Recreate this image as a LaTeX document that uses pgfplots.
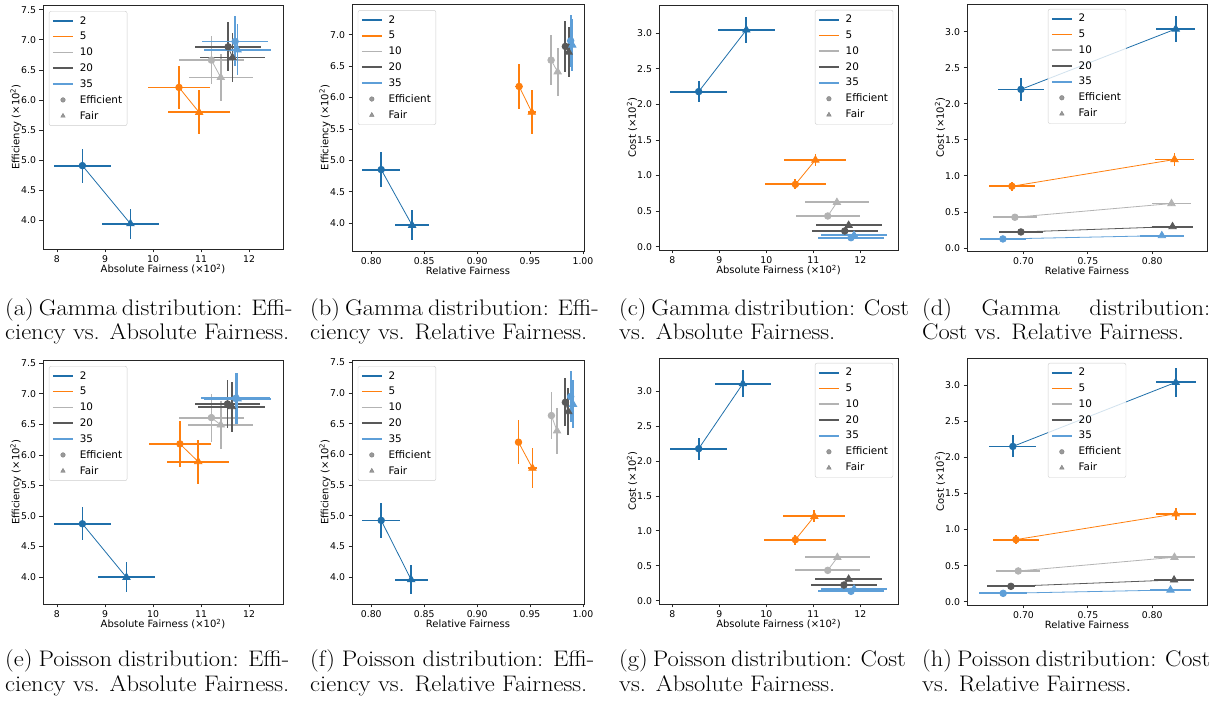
\documentclass[border=0pt]{standalone}
\usepackage{fontspec}
\setmainfont{DejaVu Sans}
\newfontfamily\capfont[FakeStretch=1.09]{Latin Modern Roman}
\usepackage{pgfplots}
\pgfplotsset{compat=1.18}

\definecolor{c2}{HTML}{1F6FAA}
\definecolor{c5}{HTML}{FF7F0E}
\definecolor{c10}{HTML}{B3B3B3}
\definecolor{c20}{HTML}{595959}
\definecolor{c35}{HTML}{5E9FD8}

\pgfplotsset{
 ser/.style={color=#1, line width=0.8pt, forget plot, scatter, scatter src=explicit symbolic,
  scatter/classes={E={mark=*, mark size=3.3pt, draw=#1, fill=#1}, F={mark=triangle*, mark size=4.2pt, draw=#1, fill=#1}},
  error bars/x dir=both, error bars/x explicit, error bars/y dir=both, error bars/y explicit,
  error bars/error mark=none, error bars/error bar style={line width=1.8pt, color=#1}},
 common/.style={scale only axis, anchor=south west, tick align=outside, major tick length=3.5pt,
  xtick pos=bottom, ytick pos=left, axis line style={black!85, line width=0.8pt},
  tick style={black!85, line width=0.8pt},
  tick label style={font=\fontsize{9.3}{11}\selectfont},
  label style={font=\fontsize{10.3}{12}\selectfont},
  /pgf/number format/assume math mode=true,
  every axis x label/.style={at={(0.5,0)}, yshift=-20pt, anchor=center},
  every axis y label/.style={at={(0,0.5)}, xshift=-27pt, rotate=90, anchor=center},
  legend style={font=\fontsize{10.4}{12}\selectfont, draw=black!20, rounded corners=2pt, fill=white, fill opacity=0.8, text opacity=1, cells={anchor=west}, row sep=2.6pt, inner xsep=3pt, inner ysep=3pt,
    /tikz/every odd column/.append style={column sep=4pt}},
  legend cell align=left},
 effy/.style={ytick={4,4.5,5,5.5,6,6.5,7,7.5}, yticklabel style={/pgf/number format/.cd, fixed, fixed zerofill, precision=1}, ylabel={Efficiency (×10\textsuperscript{2})}},
 costy/.style={ytick={0,0.5,1,1.5,2,2.5,3}, yticklabel style={/pgf/number format/.cd, fixed, fixed zerofill, precision=1}, ylabel={Cost (×10\textsuperscript{2})}},
 absx/.style={xtick={8,9,10,11,12}, xlabel={Absolute Fairness (×10\textsuperscript{2})}},
 relx/.style={xlabel={Relative Fairness}, xticklabel style={/pgf/number format/.cd, fixed, fixed zerofill, precision=2}},
}

\newcommand\mylegend{%
 \addlegendimage{legend image code/.code={\draw[c2,line width=1.6pt](0pt,0pt)--(20pt,0pt);}}\addlegendentry{2}
 \addlegendimage{legend image code/.code={\draw[c5,line width=1.6pt](0pt,0pt)--(20pt,0pt);}}\addlegendentry{5}
 \addlegendimage{legend image code/.code={\draw[c10,line width=1.6pt](0pt,0pt)--(20pt,0pt);}}\addlegendentry{10}
 \addlegendimage{legend image code/.code={\draw[c20,line width=1.6pt](0pt,0pt)--(20pt,0pt);}}\addlegendentry{20}
 \addlegendimage{legend image code/.code={\draw[c35,line width=1.6pt](0pt,0pt)--(20pt,0pt);}}\addlegendentry{35}
 \addlegendimage{legend image code/.code={\draw[black!50,mark=*,mark size=2.3pt] plot coordinates {(10pt,0pt)};}}\addlegendentry{Efficient}
 \addlegendimage{legend image code/.code={\draw[black!50,mark=triangle*,mark size=2.6pt] plot coordinates {(10pt,0pt)};}}\addlegendentry{Fair}
}

\begin{document}
\begin{tikzpicture}
\path[use as bounding box] (0,0) rectangle (1222pt,706pt);

% (a)
\begin{axis}[common, effy, absx, at={(43pt,457pt)}, width=240pt, height=244pt,
  xmin=7.71, xmax=12.705, ymin=3.525, ymax=7.58, legend style={at={(0.025,0.975)}, anchor=north west}]
\mylegend
\addplot[ser=c2] table[x=x,y=y,x error=ex,y error=ey,meta=m,row sep=\\]{x y ex ey m\\ 8.53 4.91 0.59 0.28 E\\ 9.53 3.945 0.595 0.25 F\\};
\addplot[ser=c5] table[x=x,y=y,x error=ex,y error=ey,meta=m,row sep=\\]{x y ex ey m\\ 10.54 6.21 0.64 0.36 E\\ 10.96 5.795 0.64 0.365 F\\};
\addplot[ser=c10] table[x=x,y=y,x error=ex,y error=ey,meta=m,row sep=\\]{x y ex ey m\\ 11.215 6.664 0.67 0.40 E\\ 11.41 6.376 0.67 0.39 F\\};
\addplot[ser=c20] table[x=x,y=y,x error=ex,y error=ey,meta=m,row sep=\\]{x y ex ey m\\ 11.563 6.885 0.69 0.41 E\\ 11.653 6.708 0.68 0.41 F\\};
\addplot[ser=c35] table[x=x,y=y,x error=ex,y error=ey,meta=m,row sep=\\]{x y ex ey m\\ 11.709 6.974 0.69 0.415 E\\ 11.758 6.836 0.69 0.42 F\\};
\end{axis}

% (b)
\begin{axis}[common, effy, relx, at={(352pt,455pt)}, width=232pt, height=247pt,
  xtick={0.80,0.85,0.90,0.95,1.00},
  xmin=0.7818, xmax=1.001, ymin=3.559, ymax=7.489, legend style={at={(0.025,0.975)}, anchor=north west}]
\mylegend
\addplot[ser=c2] table[x=x,y=y,x error=ex,y error=ey,meta=m,row sep=\\]{x y ex ey m\\ 0.8094 4.854 0.0177 0.276 E\\ 0.8386 3.968 0.0159 0.24 F\\};
\addplot[ser=c5] table[x=x,y=y,x error=ex,y error=ey,meta=m,row sep=\\]{x y ex ey m\\ 0.9397 6.177 0.004 0.36 E\\ 0.9517 5.768 0.004 0.345 F\\};
\addplot[ser=c10] table[x=x,y=y,x error=ex,y error=ey,meta=m,row sep=\\]{x y ex ey m\\ 0.9699 6.596 0.0015 0.40 E\\ 0.9761 6.41 0.0015 0.385 F\\};
\addplot[ser=c20] table[x=x,y=y,x error=ex,y error=ey,meta=m,row sep=\\]{x y ex ey m\\ 0.9834 6.814 0.0015 0.40 E\\ 0.9865 6.724 0.0015 0.40 F\\};
\addplot[ser=c35] table[x=x,y=y,x error=ex,y error=ey,meta=m,row sep=\\]{x y ex ey m\\ 0.9884 6.904 0.0015 0.41 E\\ 0.9900 6.835 0.0015 0.41 F\\};
\end{axis}

% (c)
\begin{axis}[common, costy, absx, at={(659pt,456pt)}, width=239pt, height=245pt,
  xmin=7.716, xmax=12.80, ymin=-0.047, ymax=3.398, legend style={at={(0.98,0.98)}, anchor=north east}]
\mylegend
\addplot[ser=c2] table[x=x,y=y,x error=ex,y error=ey,meta=m,row sep=\\]{x y ex ey m\\ 8.56 2.18 0.60 0.152 E\\ 9.574 3.047 0.60 0.185 F\\};
\addplot[ser=c5] table[x=x,y=y,x error=ex,y error=ey,meta=m,row sep=\\]{x y ex ey m\\ 10.617 0.876 0.65 0.07 E\\ 11.043 1.218 0.66 0.08 F\\};
\addplot[ser=c10] table[x=x,y=y,x error=ex,y error=ey,meta=m,row sep=\\]{x y ex ey m\\ 11.305 0.431 0.68 0.02 E\\ 11.50 0.623 0.685 0.03 F\\};
\addplot[ser=c20] table[x=x,y=y,x error=ex,y error=ey,meta=m,row sep=\\]{x y ex ey m\\ 11.667 0.22 0.70 0.015 E\\ 11.75 0.30 0.705 0.02 F\\};
\addplot[ser=c35] table[x=x,y=y,x error=ex,y error=ey,meta=m,row sep=\\]{x y ex ey m\\ 11.80 0.126 0.71 0.01 E\\ 11.865 0.16 0.71 0.012 F\\};
\end{axis}

% (d)
\begin{axis}[common, costy, relx, at={(967pt,455pt)}, width=240pt, height=247pt,
  xtick={0.70,0.75,0.80},
  xmin=0.6561, xmax=0.8426, ymin=-0.042, ymax=3.384, legend style={at={(0.5,0.98)}, anchor=north}]
\mylegend
\addplot[ser=c2] table[x=x,y=y,x error=ex,y error=ey,meta=m,row sep=\\]{x y ex ey m\\ 0.698 2.199 0.0177 0.155 E\\ 0.8183 3.037 0.0151 0.185 F\\};
\addplot[ser=c5] table[x=x,y=y,x error=ex,y error=ey,meta=m,row sep=\\]{x y ex ey m\\ 0.691 0.856 0.0178 0.06 E\\ 0.8173 1.227 0.0155 0.09 F\\};
\addplot[ser=c10] table[x=x,y=y,x error=ex,y error=ey,meta=m,row sep=\\]{x y ex ey m\\ 0.6933 0.426 0.017 0.02 E\\ 0.815 0.616 0.015 0.03 F\\};
\addplot[ser=c20] table[x=x,y=y,x error=ex,y error=ey,meta=m,row sep=\\]{x y ex ey m\\ 0.698 0.222 0.017 0.015 E\\ 0.8158 0.296 0.0156 0.02 F\\};
\addplot[ser=c35] table[x=x,y=y,x error=ex,y error=ey,meta=m,row sep=\\]{x y ex ey m\\ 0.684 0.125 0.018 0.01 E\\ 0.8075 0.171 0.017 0.012 F\\};
\end{axis}

% (e)
\begin{axis}[common, effy, absx, at={(43pt,102pt)}, width=240pt, height=244pt,
  xmin=7.71, xmax=12.705, ymin=3.558, ymax=7.555, legend style={at={(0.025,0.975)}, anchor=north west}]
\mylegend
\addplot[ser=c2] table[x=x,y=y,x error=ex,y error=ey,meta=m,row sep=\\]{x y ex ey m\\ 8.53 4.872 0.60 0.27 E\\ 9.447 3.994 0.59 0.245 F\\};
\addplot[ser=c5] table[x=x,y=y,x error=ex,y error=ey,meta=m,row sep=\\]{x y ex ey m\\ 10.56 6.18 0.65 0.37 E\\ 10.94 5.89 0.65 0.36 F\\};
\addplot[ser=c10] table[x=x,y=y,x error=ex,y error=ey,meta=m,row sep=\\]{x y ex ey m\\ 11.215 6.611 0.67 0.395 E\\ 11.41 6.491 0.68 0.39 F\\};
\addplot[ser=c20] table[x=x,y=y,x error=ex,y error=ey,meta=m,row sep=\\]{x y ex ey m\\ 11.55 6.835 0.685 0.40 E\\ 11.64 6.791 0.70 0.41 F\\};
\addplot[ser=c35] table[x=x,y=y,x error=ex,y error=ey,meta=m,row sep=\\]{x y ex ey m\\ 11.72 6.927 0.72 0.415 E\\ 11.76 6.92 0.70 0.417 F\\};
\end{axis}

% (f)
\begin{axis}[common, effy, relx, at={(352pt,102pt)}, width=232pt, height=244pt,
  xtick={0.80,0.85,0.90,0.95,1.00},
  xmin=0.7818, xmax=1.001, ymin=3.56, ymax=7.543, legend style={at={(0.025,0.975)}, anchor=north west}]
\mylegend
\addplot[ser=c2] table[x=x,y=y,x error=ex,y error=ey,meta=m,row sep=\\]{x y ex ey m\\ 0.8094 4.924 0.0177 0.28 E\\ 0.8377 3.957 0.0157 0.24 F\\};
\addplot[ser=c5] table[x=x,y=y,x error=ex,y error=ey,meta=m,row sep=\\]{x y ex ey m\\ 0.9391 6.201 0.0035 0.36 E\\ 0.9523 5.777 0.004 0.33 F\\};
\addplot[ser=c10] table[x=x,y=y,x error=ex,y error=ey,meta=m,row sep=\\]{x y ex ey m\\ 0.9702 6.636 0.0015 0.39 E\\ 0.9755 6.386 0.0015 0.37 F\\};
\addplot[ser=c20] table[x=x,y=y,x error=ex,y error=ey,meta=m,row sep=\\]{x y ex ey m\\ 0.9834 6.853 0.0015 0.39 E\\ 0.9862 6.70 0.0015 0.385 F\\};
\addplot[ser=c35] table[x=x,y=y,x error=ex,y error=ey,meta=m,row sep=\\]{x y ex ey m\\ 0.9884 6.946 0.0015 0.41 E\\ 0.9906 6.82 0.0015 0.39 F\\};
\end{axis}

% (g)
\begin{axis}[common, costy, absx, at={(659pt,102pt)}, width=239pt, height=246pt,
  xmin=7.716, xmax=12.80, ymin=-0.048, ymax=3.478, legend style={at={(0.98,0.98)}, anchor=north east}]
\mylegend
\addplot[ser=c2] table[x=x,y=y,x error=ex,y error=ey,meta=m,row sep=\\]{x y ex ey m\\ 8.56 2.178 0.60 0.155 E\\ 9.50 3.11 0.60 0.19 F\\};
\addplot[ser=c5] table[x=x,y=y,x error=ex,y error=ey,meta=m,row sep=\\]{x y ex ey m\\ 10.617 0.874 0.66 0.07 E\\ 11.02 1.208 0.66 0.085 F\\};
\addplot[ser=c10] table[x=x,y=y,x error=ex,y error=ey,meta=m,row sep=\\]{x y ex ey m\\ 11.305 0.434 0.69 0.02 E\\ 11.51 0.62 0.685 0.03 F\\};
\addplot[ser=c20] table[x=x,y=y,x error=ex,y error=ey,meta=m,row sep=\\]{x y ex ey m\\ 11.65 0.224 0.705 0.015 E\\ 11.75 0.308 0.71 0.02 F\\};
\addplot[ser=c35] table[x=x,y=y,x error=ex,y error=ey,meta=m,row sep=\\]{x y ex ey m\\ 11.80 0.134 0.71 0.01 E\\ 11.865 0.167 0.71 0.012 F\\};
\end{axis}

% (h)
\begin{axis}[common, costy, relx, at={(967pt,101pt)}, width=240pt, height=247pt,
  xtick={0.70,0.75,0.80},
  xmin=0.6561, xmax=0.8426, ymin=-0.046, ymax=3.38, legend style={at={(0.5,0.98)}, anchor=north}]
\mylegend
\addplot[ser=c2] table[x=x,y=y,x error=ex,y error=ey,meta=m,row sep=\\]{x y ex ey m\\ 0.6917 2.153 0.0183 0.153 E\\ 0.8183 3.042 0.0155 0.2 F\\};
\addplot[ser=c5] table[x=x,y=y,x error=ex,y error=ey,meta=m,row sep=\\]{x y ex ey m\\ 0.6941 0.861 0.018 0.06 E\\ 0.8183 1.218 0.0155 0.08 F\\};
\addplot[ser=c10] table[x=x,y=y,x error=ex,y error=ey,meta=m,row sep=\\]{x y ex ey m\\ 0.6959 0.426 0.0173 0.02 E\\ 0.8173 0.616 0.0158 0.03 F\\};
\addplot[ser=c20] table[x=x,y=y,x error=ex,y error=ey,meta=m,row sep=\\]{x y ex ey m\\ 0.6902 0.213 0.0189 0.015 E\\ 0.817 0.301 0.0155 0.02 F\\};
\addplot[ser=c35] table[x=x,y=y,x error=ex,y error=ey,meta=m,row sep=\\]{x y ex ey m\\ 0.6842 0.116 0.0189 0.01 E\\ 0.8142 0.162 0.0158 0.012 F\\};
\end{axis}

% captions
\begin{scope}[every node/.style={anchor=base west, inner sep=0pt, font=\capfont\fontsize{22.5}{25}\selectfont}]
\node at (5pt,390pt) {\makebox[284pt][s]{(a) Gamma distribution: Effi-}};
\node at (5pt,366pt) {ciency vs. Absolute Fairness.};
\node at (310pt,390pt) {\makebox[284pt][s]{(b) Gamma distribution: Effi-}};
\node at (310pt,366pt) {ciency vs. Relative Fairness.};
\node at (619pt,390pt) {\makebox[284pt][s]{(c) Gamma distribution: Cost}};
\node at (619pt,366pt) {vs. Absolute Fairness.};
\node at (922pt,390pt) {\makebox[288pt][s]{(d)\hfill Gamma\hfill distribution:}};
\node at (922pt,366pt) {Cost vs. Relative Fairness.};
\node at (5pt,39pt) {\makebox[284pt][s]{(e) Poisson distribution: Effi-}};
\node at (5pt,15pt) {ciency vs. Absolute Fairness.};
\node at (310pt,39pt) {\makebox[284pt][s]{(f) Poisson distribution: Effi-}};
\node at (310pt,15pt) {ciency vs. Relative Fairness.};
\node at (619pt,39pt) {\makebox[284pt][s]{(g) Poisson distribution: Cost}};
\node at (619pt,15pt) {vs. Absolute Fairness.};
\node at (922pt,39pt) {\makebox[288pt][s]{(h) Poisson distribution: Cost}};
\node at (922pt,15pt) {vs. Relative Fairness.};
\end{scope}
\end{tikzpicture}
\end{document}
